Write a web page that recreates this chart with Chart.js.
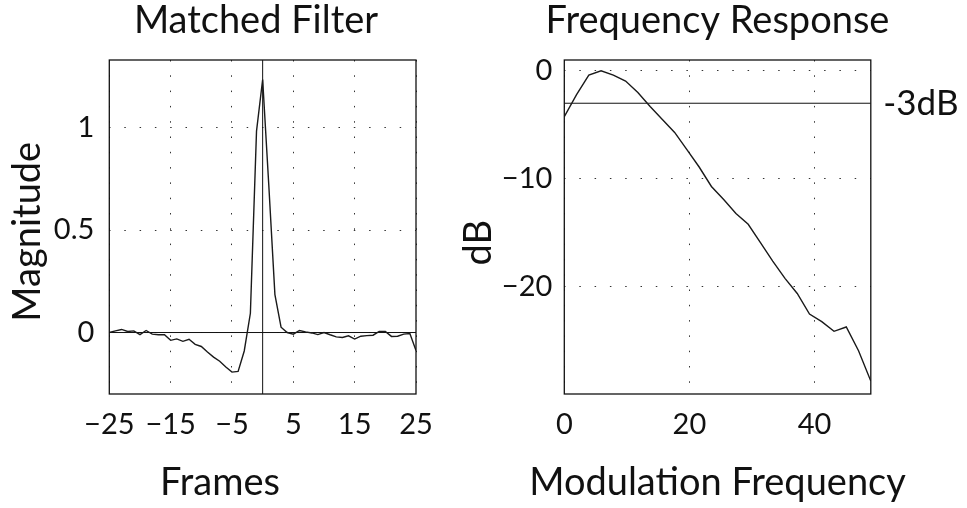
<!DOCTYPE html>
<html>
<head>
<meta charset="utf-8">
<script src="https://cdn.jsdelivr.net/npm/chart.js@4.4.0/dist/chart.umd.min.js"></script>
<style>
  html, body { margin: 0; padding: 0; background: #fff; }
  #wrap { position: relative; width: 967px; height: 508px; overflow: hidden; }
  canvas { position: absolute; top: 0; }
  #filterChart { left: 0; }
  #responseChart { left: 440px; }
</style>
</head>
<body>
<div id="wrap">
  <canvas id="filterChart" width="512" height="508"></canvas>
  <canvas id="responseChart" width="555" height="508"></canvas>
</div>
<script>
// matched filter, one value per frame
const frames = [-25, -24, -23, -22, -21, -20, -19, -18, -17, -16, -15, -14, -13, -12, -11, -10, -9, -8, -7, -6, -5, -4, -3, -2, -1,
  0, 1, 2, 3, 4, 5, 6, 7, 8, 9, 10, 11, 12, 13, 14, 15, 16, 17, 18, 19, 20, 21, 22, 23, 24, 25];
const magnitude = [0.000, 0.008, 0.015, 0.005, 0.008, -0.010, 0.010, -0.008, -0.011, -0.011, -0.038, -0.031, -0.043, -0.033, -0.058, -0.068, -0.095, -0.120, -0.140, -0.168, -0.193, -0.190, -0.090, 0.094, 0.983,
  1.235, 0.720, 0.185, 0.026, 0.000, -0.008, 0.010, 0.003, -0.002, -0.010, 0.000, -0.011, -0.021, -0.024, -0.016, -0.032, -0.018, -0.015, -0.013, 0.005, 0.005, -0.019, -0.018, -0.008, -0.005, -0.088];
const frameTicks = [-25, -15, -5, 5, 15, 25];
const magnitudeTicks = [0, 0.5, 1];

// frequency response of the filter
const modFreq = [0, 1.96, 3.92, 5.88, 7.84, 9.8, 11.76, 13.72, 15.68, 17.64, 19.6, 21.56, 23.52, 25.48, 27.44, 29.4,
  31.36, 33.32, 35.28, 37.24, 39.2, 41.16, 43.12, 45.08, 47.04, 49.0];
const responseDb = [-4.25, -2.2, -0.4, 0.0, -0.4, -0.95, -2.0, -3.3, -4.5, -5.7, -7.3, -8.9, -10.7, -11.9, -13.2, -14.2,
  -15.9, -17.6, -19.2, -20.6, -22.5, -23.2, -24.1, -23.7, -25.9, -28.7];
const freqTicks = [0, 20, 40];
const dbTicks = [0, -10, -20];
const cutoffDb = [-3];

Chart.defaults.font.family = 'Lato';
Chart.defaults.color = '#111';
Chart.defaults.animation = false;

const titleFont = { size: 38, weight: 'normal', lineHeight: 1 };
const tickFont = { size: 29, lineHeight: 1 };

// matlab style minus sign on tick labels
const minus = v => v < 0 ? '\u2212' + Math.abs(v) : String(v);
const useTicks = list => scale => { scale.ticks = list.map(v => ({ value: v })); };
const fixSize = (w, h) => scale => {
  if (w !== undefined) scale.width = w;
  if (h !== undefined) scale.height = h;
};

const grid = { color: '#333', lineWidth: 1, drawTicks: false };
const dots = { display: false, dash: [1.5, 13.8] };

const frame = {
  id: 'frame',
  afterDatasetsDraw(chart) {
    const { ctx, chartArea: a } = chart;
    ctx.save();
    ctx.strokeStyle = '#111';
    ctx.lineWidth = 1.3;
    ctx.strokeRect(a.left, a.top, a.right - a.left, a.bottom - a.top);
    ctx.restore();
  }
};

const lineOpts = { borderColor: '#1a1a1a', borderWidth: 1.4, pointRadius: 0, tension: 0 };
const refOpts = { borderColor: '#111', borderWidth: 1, pointRadius: 0, tension: 0 };

new Chart(document.getElementById('filterChart'), {
  type: 'line',
  data: {
    datasets: [
      Object.assign({ data: frames.map((f, i) => ({ x: f, y: magnitude[i] })) }, lineOpts),
      Object.assign({ data: [{ x: -25, y: 0 }, { x: 25, y: 0 }] }, refOpts),
      Object.assign({ data: [{ x: 0, y: -0.3 }, { x: 0, y: 1.34 }] }, refOpts)
    ]
  },
  options: {
    responsive: false,
    events: [],
    layout: { padding: 0 },
    plugins: {
      legend: { display: false },
      tooltip: { enabled: false },
      title: { display: true, text: 'Matched Filter', font: titleFont, color: '#111', padding: { top: 1.3, bottom: 20.7 } }
    },
    scales: {
      x: {
        type: 'linear', min: -25, max: 25,
        afterBuildTicks: useTicks(frameTicks),
        afterFit: fixSize(undefined, 114),
        grid: grid, border: dots,
        ticks: { font: tickFont, padding: 16, autoSkip: false, maxRotation: 0, callback: minus },
        title: { display: true, text: 'Frames\u2003\u2003\u2002\u2005', font: titleFont, padding: { top: 0, bottom: 6.7 } }
      },
      y: {
        type: 'linear', min: -0.3, max: 1.33,
        afterBuildTicks: useTicks(magnitudeTicks),
        afterFit: fixSize(109.3),
        grid: grid, border: dots,
        ticks: { font: tickFont, padding: 15, callback: minus },
        title: { display: true, text: 'Magnitude\u2005', font: titleFont, padding: { top: 8.3, bottom: 0 } }
      },
      // empty spacer so the full width title stays centred on the canvas
      spacer: {
        type: 'linear', position: 'right', min: 0, max: 1,
        afterFit: fixSize(96),
        grid: { display: false, drawTicks: false }, border: { display: false },
        ticks: { display: false }
      }
    }
  },
  plugins: [frame]
});

new Chart(document.getElementById('responseChart'), {
  type: 'line',
  data: {
    datasets: [
      Object.assign({ data: modFreq.map((f, i) => ({ x: f, y: responseDb[i] })) }, lineOpts),
      Object.assign({ data: [{ x: 0, y: cutoffDb[0] }, { x: 49, y: cutoffDb[0] }] }, refOpts)
    ]
  },
  options: {
    responsive: false,
    events: [],
    layout: { padding: 0 },
    plugins: {
      legend: { display: false },
      tooltip: { enabled: false },
      title: { display: true, text: 'Frequency Response', font: titleFont, color: '#111', padding: { top: 1.3, bottom: 20.7 } },
      // x label wider than the plot, so it goes in a full width subtitle box
      subtitle: { display: true, position: 'bottom', text: 'Modulation Frequency', font: titleFont, color: '#111', padding: { top: 6, bottom: 6.7 } }
    },
    scales: {
      x: {
        type: 'linear', min: 0, max: 49,
        afterBuildTicks: useTicks(freqTicks),
        afterFit: fixSize(undefined, 63.3),
        grid: grid, border: dots,
        ticks: { font: tickFont, padding: 16, autoSkip: false, maxRotation: 0, callback: minus }
      },
      y: {
        type: 'linear', min: -29.9, max: 1,
        afterBuildTicks: useTicks(dbTicks),
        afterFit: fixSize(124.3),
        grid: grid, border: dots,
        ticks: { font: tickFont, padding: 12, callback: minus },
        title: { display: true, text: 'dB\u2002\u2004', font: titleFont, padding: { top: 19.8, bottom: 0 } }
      },
      y2: {
        type: 'linear', position: 'right', min: -29.9, max: 1,
        afterBuildTicks: useTicks(cutoffDb),
        afterFit: fixSize(124.2),
        grid: { display: false, drawTicks: false }, border: { display: false },
        ticks: { font: { size: 35, lineHeight: 1 }, padding: 12.5, callback: v => v + 'dB' }
      }
    }
  },
  plugins: [frame]
});
</script>
</body>
</html>
